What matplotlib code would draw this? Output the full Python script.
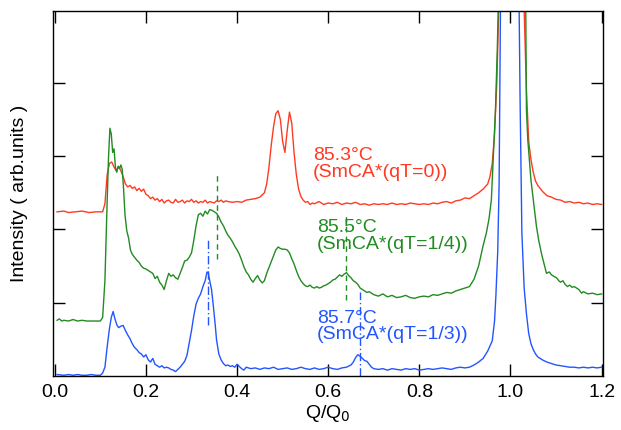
import matplotlib
matplotlib.use("Agg")
import matplotlib.pyplot as plt

plt.rcParams['font.family'] = ['Liberation Sans', 'DejaVu Sans']

# 85.3 C  (SmCA*(qT=0))
q_red = [0.005, 0.02, 0.03, 0.045, 0.06, 0.075, 0.09, 0.105, 0.11, 0.115, 0.12, 0.125, 0.13, 0.135,
         0.14, 0.145, 0.15, 0.155, 0.16, 0.165, 0.17, 0.175, 0.18, 0.185, 0.19, 0.195, 0.20, 0.205,
         0.21, 0.215, 0.22, 0.225, 0.23, 0.235, 0.24, 0.245, 0.25, 0.255, 0.26, 0.265, 0.27, 0.275,
         0.28, 0.285, 0.29, 0.295, 0.30, 0.305, 0.31, 0.315, 0.32, 0.325, 0.33, 0.335, 0.34, 0.345,
         0.35, 0.355, 0.36, 0.365, 0.37, 0.375, 0.38, 0.39, 0.40, 0.41, 0.42, 0.43, 0.44, 0.45,
         0.46, 0.465, 0.47, 0.475, 0.48, 0.485, 0.49, 0.495, 0.50, 0.505, 0.51, 0.515, 0.52, 0.525,
         0.53, 0.535, 0.54, 0.545, 0.55, 0.555, 0.56, 0.565, 0.57, 0.58, 0.59, 0.60, 0.61, 0.62,
         0.63, 0.64, 0.65, 0.66, 0.67, 0.68, 0.69, 0.70, 0.71, 0.72, 0.73, 0.74, 0.75, 0.76, 0.77,
         0.78, 0.79, 0.80, 0.81, 0.82, 0.83, 0.84, 0.85, 0.86, 0.87, 0.88, 0.89, 0.90, 0.91, 0.92,
         0.93, 0.94, 0.95, 0.955, 0.96, 0.965, 0.97, 0.975, 0.98, 1.0, 1.025, 1.03, 1.035, 1.04,
         1.045, 1.05, 1.055, 1.06, 1.07, 1.08, 1.09, 1.10, 1.11, 1.12, 1.13, 1.14, 1.15, 1.16,
         1.17, 1.18, 1.19, 1.20]
i_red = [2.24, 2.25, 2.23, 2.24, 2.25, 2.23, 2.24, 2.24, 2.35, 2.75, 2.90, 2.92, 2.85, 2.80,
         2.86, 2.80, 2.72, 2.62, 2.58, 2.60, 2.56, 2.58, 2.53, 2.56, 2.52, 2.55, 2.48, 2.46,
         2.42, 2.44, 2.40, 2.42, 2.38, 2.41, 2.36, 2.39, 2.40, 2.37, 2.36, 2.41, 2.37, 2.38,
         2.40, 2.36, 2.39, 2.38, 2.41, 2.37, 2.39, 2.36, 2.38, 2.37, 2.40, 2.36, 2.38, 2.37,
         2.36, 2.39, 2.38, 2.40, 2.37, 2.39, 2.38, 2.37, 2.38, 2.37, 2.40, 2.41, 2.42, 2.44,
         2.50, 2.62, 2.85, 3.15, 3.40, 3.58, 3.62, 3.50, 3.20, 3.05, 3.35, 3.60, 3.45, 3.05,
         2.75, 2.55, 2.45, 2.40, 2.37, 2.38, 2.34, 2.36, 2.35, 2.38, 2.34, 2.36, 2.35, 2.37,
         2.34, 2.36, 2.35, 2.37, 2.34, 2.35, 2.33, 2.35, 2.34, 2.35, 2.34, 2.36, 2.34, 2.35, 2.34,
         2.36, 2.35, 2.34, 2.35, 2.34, 2.36, 2.35, 2.37, 2.38, 2.36, 2.39, 2.40, 2.43, 2.42, 2.46,
         2.50, 2.55, 2.62, 2.72, 2.90, 3.30, 4.00, 5.20, 7.00, 9.00, 7.00, 5.00, 3.90, 3.20,
         2.95, 2.78, 2.66, 2.60, 2.52, 2.46, 2.44, 2.41, 2.40, 2.37, 2.38, 2.36, 2.37, 2.35,
         2.36, 2.34, 2.35, 2.34]

# 85.5 C  (SmCA*(qT=1/4))
q_green = [0.005, 0.01, 0.015, 0.02, 0.03, 0.04, 0.05, 0.06, 0.07, 0.08, 0.09, 0.10, 0.105, 0.11,
           0.115, 0.118, 0.121, 0.124, 0.127, 0.13, 0.133, 0.136, 0.139, 0.142, 0.145, 0.148, 0.151,
           0.154, 0.158, 0.162, 0.166, 0.17, 0.175, 0.18, 0.185, 0.19, 0.195, 0.20, 0.205, 0.21,
           0.215, 0.22, 0.225, 0.23, 0.235, 0.24, 0.245, 0.25, 0.255, 0.26, 0.265, 0.27, 0.275,
           0.28, 0.285, 0.29, 0.295, 0.30, 0.305, 0.31, 0.315, 0.32, 0.325, 0.33, 0.335, 0.34,
           0.345, 0.35, 0.355, 0.36, 0.365, 0.37, 0.375, 0.38, 0.385, 0.39, 0.395, 0.40, 0.405,
           0.41, 0.415, 0.42, 0.425, 0.43, 0.435, 0.44, 0.445, 0.45, 0.455, 0.46, 0.465, 0.47,
           0.475, 0.48, 0.485, 0.49, 0.495, 0.50, 0.505, 0.51, 0.515, 0.52, 0.525, 0.53, 0.535,
           0.54, 0.545, 0.55, 0.555, 0.56, 0.565, 0.57, 0.575, 0.58, 0.585, 0.59, 0.595, 0.60,
           0.605, 0.61, 0.615, 0.62, 0.625, 0.63, 0.635, 0.64, 0.645, 0.65, 0.655, 0.66, 0.665,
           0.67, 0.675, 0.68, 0.685, 0.69, 0.70, 0.71, 0.72, 0.73, 0.74, 0.75, 0.76, 0.77, 0.78,
           0.79, 0.80, 0.81, 0.82, 0.83, 0.84, 0.85, 0.86, 0.87, 0.88, 0.89, 0.90, 0.91, 0.92,
           0.93, 0.94, 0.947, 0.953, 0.958, 0.963, 0.967, 0.971, 0.975, 0.985, 1.0, 1.02, 1.033,
           1.035, 1.038, 1.045, 1.051, 1.057, 1.062, 1.068, 1.074, 1.079, 1.085, 1.09, 1.095,
           1.101, 1.106, 1.11, 1.115, 1.12, 1.125, 1.13, 1.135, 1.14, 1.15, 1.156, 1.16, 1.17,
           1.18, 1.19, 1.20]
i_green = [0.76, 0.78, 0.75, 0.76, 0.75, 0.77, 0.75, 0.76, 0.75, 0.75, 0.75, 0.75, 0.80, 1.30,
           2.40, 3.00, 3.38, 3.30, 3.05, 3.10, 2.85, 2.78, 2.86, 2.83, 2.88, 2.82, 2.55,
           2.20, 1.98, 1.88, 1.72, 1.66, 1.62, 1.58, 1.55, 1.50, 1.47, 1.46, 1.44, 1.42,
           1.40, 1.33, 1.36, 1.28, 1.24, 1.18, 1.30, 1.40, 1.36, 1.38, 1.34, 1.32, 1.40,
           1.48, 1.57, 1.58, 1.62, 1.68, 1.85, 2.05, 2.20, 2.22, 2.18, 2.25, 2.21, 2.27,
           2.26, 2.24, 2.22, 2.17, 2.10, 2.05, 1.98, 1.92, 1.88, 1.83, 1.77, 1.72, 1.66,
           1.58, 1.49, 1.42, 1.38, 1.32, 1.28, 1.33, 1.37, 1.31, 1.27, 1.30, 1.40, 1.48,
           1.56, 1.64, 1.72, 1.76, 1.74, 1.73, 1.73, 1.72, 1.68, 1.60, 1.53, 1.44, 1.36,
           1.30, 1.26, 1.23, 1.22, 1.24, 1.21, 1.20, 1.22, 1.20, 1.21, 1.23, 1.24, 1.26,
           1.28, 1.31, 1.32, 1.35, 1.38, 1.36, 1.39, 1.41, 1.37, 1.34, 1.30, 1.28, 1.25,
           1.20, 1.18, 1.16, 1.14, 1.15, 1.11, 1.09, 1.12, 1.08, 1.10, 1.07, 1.08, 1.10, 1.07,
           1.06, 1.08, 1.09, 1.08, 1.11, 1.10, 1.12, 1.14, 1.13, 1.16, 1.18, 1.20, 1.22, 1.32,
           1.50, 1.78, 1.95, 2.15, 2.40, 3.08, 3.63, 4.45, 5.50, 8.00, 10.0, 8.00, 5.50,
           3.63, 3.22, 2.67, 2.35, 2.04, 1.85, 1.67, 1.52, 1.40, 1.42, 1.38, 1.36,
           1.34, 1.30, 1.28, 1.30, 1.25, 1.22, 1.24, 1.21, 1.22, 1.18, 1.13, 1.15, 1.12,
           1.13, 1.11, 1.12]

# 85.7 C  (SmCA*(qT=1/3))
q_blue = [0.005, 0.02, 0.03, 0.04, 0.05, 0.06, 0.07, 0.08, 0.09, 0.10, 0.105, 0.11, 0.115, 0.12,
          0.124, 0.128, 0.132, 0.136, 0.14, 0.145, 0.15, 0.155, 0.16, 0.165, 0.17, 0.175, 0.18,
          0.185, 0.19, 0.195, 0.20, 0.205, 0.21, 0.215, 0.22, 0.225, 0.23, 0.235, 0.24, 0.245,
          0.25, 0.255, 0.26, 0.265, 0.27, 0.275, 0.28, 0.285, 0.29, 0.295, 0.30, 0.305, 0.31,
          0.315, 0.32, 0.325, 0.33, 0.334, 0.337, 0.34, 0.344, 0.348, 0.352, 0.355, 0.36, 0.365,
          0.37, 0.375, 0.38, 0.385, 0.39, 0.395, 0.40, 0.405, 0.41, 0.415, 0.42, 0.43, 0.44,
          0.45, 0.46, 0.47, 0.48, 0.49, 0.50, 0.51, 0.52, 0.53, 0.54, 0.55, 0.56, 0.57, 0.58,
          0.59, 0.60, 0.61, 0.62, 0.63, 0.64, 0.65, 0.655, 0.66, 0.665, 0.67, 0.675, 0.68, 0.685,
          0.69, 0.695, 0.70, 0.71, 0.72, 0.73, 0.74, 0.75, 0.76, 0.77, 0.78, 0.79, 0.80, 0.81,
          0.82, 0.83, 0.84, 0.85, 0.86, 0.87, 0.88, 0.89, 0.90, 0.91, 0.92, 0.93, 0.94, 0.95,
          0.96, 0.965, 0.968, 0.972, 0.975, 0.978, 1.0, 1.019, 1.021, 1.025, 1.03, 1.035, 1.04,
          1.045, 1.05, 1.055, 1.06, 1.07, 1.08, 1.09, 1.10, 1.11, 1.12, 1.13, 1.14, 1.15, 1.16,
          1.17, 1.18, 1.19, 1.20]
i_blue = [0.02, 0.01, 0.02, 0.01, 0.02, 0.01, 0.01, 0.02, 0.01, 0.01, 0.04, 0.12, 0.40, 0.65,
          0.80, 0.88, 0.78, 0.70, 0.66, 0.68, 0.69, 0.62, 0.56, 0.51, 0.44, 0.39, 0.36,
          0.32, 0.30, 0.26, 0.29, 0.22, 0.19, 0.24, 0.16, 0.14, 0.12, 0.14, 0.11, 0.12,
          0.11, 0.09, 0.08, 0.06, 0.09, 0.12, 0.16, 0.20, 0.28, 0.45, 0.62, 0.82, 0.98,
          1.06, 1.12, 1.22, 1.30, 1.42, 1.40, 1.30, 1.18, 0.95, 0.70, 0.49, 0.30, 0.22,
          0.17, 0.14, 0.15, 0.13, 0.14, 0.12, 0.16, 0.13, 0.10, 0.08, 0.12, 0.10, 0.11,
          0.09, 0.11, 0.10, 0.12, 0.09, 0.10, 0.11, 0.09, 0.10, 0.12, 0.10, 0.09, 0.11, 0.09,
          0.10, 0.12, 0.10, 0.09, 0.11, 0.12, 0.15, 0.19, 0.25, 0.29, 0.27, 0.24, 0.21, 0.20,
          0.16, 0.12, 0.10, 0.09, 0.10, 0.08, 0.10, 0.09, 0.08, 0.10, 0.09, 0.10, 0.08, 0.09,
          0.10, 0.09, 0.10, 0.11, 0.10, 0.09, 0.11, 0.12, 0.11, 0.12, 0.15, 0.19, 0.24, 0.34,
          0.48, 0.75, 1.10, 1.70, 2.60, 5.00, 12.0, 5.00, 3.80, 1.95, 1.20, 0.85, 0.58,
          0.44, 0.36, 0.30, 0.26, 0.22, 0.19, 0.17, 0.15, 0.14, 0.13, 0.12, 0.12, 0.11, 0.12,
          0.11, 0.12, 0.11, 0.12]

# peak markers: q position, lower end, upper end
green_mark_q = [0.355, 0.638]
green_mark_lo = [1.60, 1.04]
green_mark_hi = [2.77, 2.20]
blue_mark_q = [0.337, 0.669]
blue_mark_lo = [0.70, 0.0]
blue_mark_hi = [1.86, 1.15]

red = '#ff3a22'
green = '#228b22'
blue = '#2255ff'

fig = plt.figure(figsize=(6.21, 4.30), dpi=100)
ax = fig.add_axes([0.0853, 0.1256, 0.8857, 0.8488])

ax.plot(q_red, i_red, color=red, lw=1.0)
ax.plot(q_green, i_green, color=green, lw=1.0)
ax.plot(q_blue, i_blue, color=blue, lw=1.0)

ax.vlines(green_mark_q, green_mark_lo, green_mark_hi, colors=green, linestyles=(0, (4, 3)), lw=1.0)
ax.vlines(blue_mark_q, blue_mark_lo, blue_mark_hi, colors=blue, linestyles=(0, (6, 2, 1, 2)), lw=1.0)

# labels next to each curve
ax.text(0.566, 3.12, "85.3°C\n(SmCA*(qT=0))", color=red, fontsize=14, va='top', linespacing=0.95)
ax.text(0.575, 2.14, "85.5°C\n(SmCA*(qT=1/4))", color=green, fontsize=14, va='top', linespacing=0.95)
ax.text(0.575, 0.90, "85.7°C\n(SmCA*(qT=1/3))", color=blue, fontsize=14, va='top', linespacing=0.95)

ax.set_xlim(-0.004, 1.203)
ax.set_ylim(0, 4.98)
ax.set_xticks([0.0, 0.2, 0.4, 0.6, 0.8, 1.0, 1.2])
ax.set_xticklabels(["0.0", "0.2", "0.4", "0.6", "0.8", "1.0", "1.2"])
ax.set_yticks([1, 2, 3, 4])
ax.set_yticklabels([])
ax.tick_params(direction='in', length=8.5, width=1.0, top=True, right=True, labelsize=14, pad=6)
for s in ax.spines.values():
    s.set_linewidth(1.0)

ax.set_xlabel("Q/Q$_0$", fontsize=14, labelpad=1)
ax.set_ylabel("Intensity ( arb.units )", fontsize=14, labelpad=12)

fig.savefig("out.png", dpi=100)
